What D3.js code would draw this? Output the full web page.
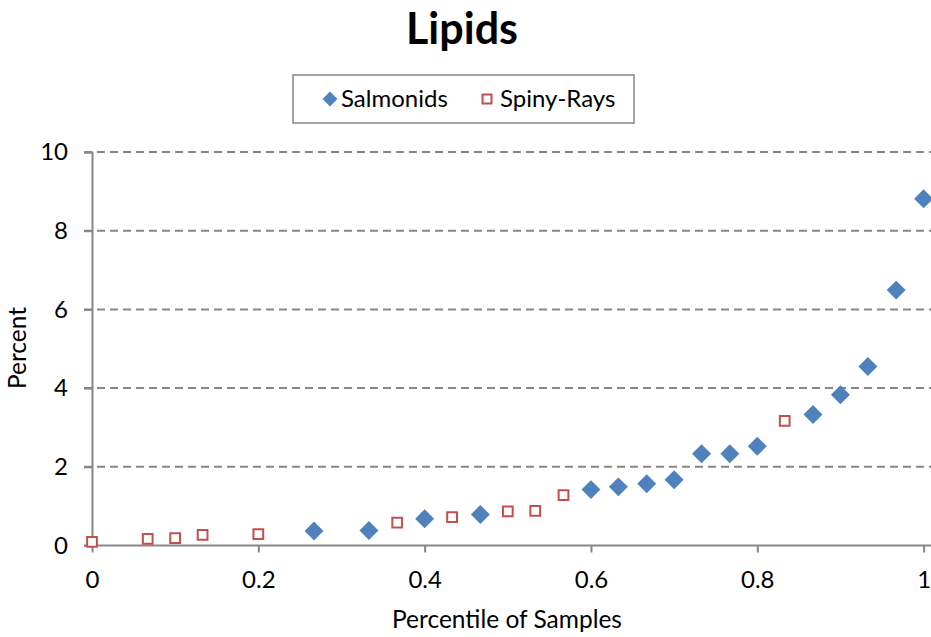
<!DOCTYPE html>
<html>
<head>
<meta charset="utf-8">
<script src="https://cdn.jsdelivr.net/npm/d3@7"></script>
<style>
  body { margin: 0; background: #fff; }
  svg { display: block; font-family: Lato, 'Noto Sans', sans-serif; }
</style>
</head>
<body>
<div id="chart"></div>
<script>
// Salmonids (filled blue diamonds)
const salmonX = [0.267, 0.333, 0.4, 0.467, 0.6, 0.633, 0.667, 0.7, 0.733, 0.767, 0.8, 0.867, 0.9, 0.933, 0.967, 1.0];
const salmonY = [0.37, 0.38, 0.68, 0.79, 1.42, 1.49, 1.57, 1.67, 2.33, 2.33, 2.52, 3.33, 3.83, 4.55, 6.49, 8.81];
// Spiny-Rays (open red squares)
const spinyX = [0, 0.067, 0.1, 0.133, 0.2, 0.367, 0.433, 0.5, 0.533, 0.567, 0.833];
const spinyY = [0.09, 0.17, 0.19, 0.27, 0.29, 0.58, 0.72, 0.87, 0.88, 1.28, 3.17];
const xTicks = [0, 0.2, 0.4, 0.6, 0.8, 1];
const yTicks = [0, 2, 4, 6, 8, 10];

const width = 931;
const height = 637;
const padding = { top: 152, right: 8, bottom: 91, left: 92 };

const xScale = d3.scaleLinear()
    .domain([0, 1])
    .range([padding.left, padding.left + 831.6]);
const yScale = d3.scaleLinear()
    .domain([0, 10])
    .range([545.5, padding.top]);

const svg = d3.select('#chart')
    .append('svg')
    .attr('width', width)
    .attr('height', height);

// title
svg.append('text')
    .attr('x', 462)
    .attr('y', 44)
    .attr('text-anchor', 'middle')
    .attr('font-size', 43)
    .attr('font-weight', 'bold')
    .text('Lipids');

// gridlines
svg.append('g')
    .selectAll('line')
    .data(yTicks.filter(d => d > 0))
    .enter()
    .append('line')
    .attr('x1', padding.left - 8)
    .attr('x2', width)
    .attr('y1', d => yScale(d))
    .attr('y2', d => yScale(d))
    .attr('stroke', '#878787')
    .attr('stroke-width', 2)
    .attr('stroke-dasharray', '8,5');

// axes
const yAxis = d3.axisLeft(yScale).tickValues(yTicks).tickSize(8).tickPadding(16);
const xAxis = d3.axisBottom(xScale).tickValues(xTicks).tickSize(7).tickPadding(18)
    .tickFormat(d => d === 0 || d === 1 ? String(d) : d3.format('.1f')(d));

const gy = svg.append('g')
    .attr('transform', 'translate(' + padding.left + ',0)')
    .call(yAxis);
const gx = svg.append('g')
    .attr('transform', 'translate(0,' + yScale(0) + ')')
    .call(xAxis);

[gx, gy].forEach(g => {
    g.select('.domain').attr('stroke', '#878787').attr('stroke-width', 2);
    g.selectAll('.tick line').attr('stroke', '#878787').attr('stroke-width', 2);
    g.selectAll('.tick text')
        .attr('font-size', 24)
        .attr('font-family', 'Lato, sans-serif')
        .attr('fill', '#000');
});
gx.select('.domain').attr('d', 'M' + (padding.left - 8) + ',0H' + width);

// axis titles
svg.append('text')
    .attr('x', 507)
    .attr('y', 628)
    .attr('text-anchor', 'middle')
    .attr('font-size', 24.5)
    .text('Percentile of Samples');

svg.append('text')
    .attr('transform', 'translate(26,348) rotate(-90)')
    .attr('text-anchor', 'middle')
    .attr('font-size', 24.5)
    .text('Percent');

// points
const diamond = d3.symbol().type(d3.symbolSquare).size(180);
const square = d3.symbol().type(d3.symbolSquare).size(95);

const salmonData = salmonX.map((x, i) => [x, salmonY[i]]);
const spinyData = spinyX.map((x, i) => [x, spinyY[i]]);

svg.append('g')
    .selectAll('path')
    .data(spinyData)
    .enter()
    .append('path')
    .attr('d', square)
    .attr('transform', d => 'translate(' + xScale(d[0]) + ',' + yScale(d[1]) + ')')
    .attr('fill', '#fff')
    .attr('stroke', '#c0504d')
    .attr('stroke-width', 2);

svg.append('g')
    .selectAll('path')
    .data(salmonData)
    .enter()
    .append('path')
    .attr('d', diamond)
    .attr('transform', d => 'translate(' + xScale(d[0]) + ',' + yScale(d[1]) + ') rotate(45)')
    .attr('fill', '#4f81bd');

// legend
const legend = svg.append('g');
legend.append('rect')
    .attr('x', 293)
    .attr('y', 75)
    .attr('width', 341)
    .attr('height', 48)
    .attr('fill', '#fff')
    .attr('stroke', '#878787')
    .attr('stroke-width', 1.5);
legend.append('path')
    .attr('d', d3.symbol().type(d3.symbolSquare).size(110))
    .attr('transform', 'translate(330,99) rotate(45)')
    .attr('fill', '#4f81bd');
legend.append('text')
    .attr('x', 341)
    .attr('y', 107)
    .attr('font-size', 24)
    .text('Salmonids');
legend.append('path')
    .attr('d', d3.symbol().type(d3.symbolSquare).size(80))
    .attr('transform', 'translate(487,99)')
    .attr('fill', '#fff')
    .attr('stroke', '#c0504d')
    .attr('stroke-width', 2);
legend.append('text')
    .attr('x', 500)
    .attr('y', 107)
    .attr('font-size', 24)
    .text('Spiny-Rays');
</script>
</body>
</html>
